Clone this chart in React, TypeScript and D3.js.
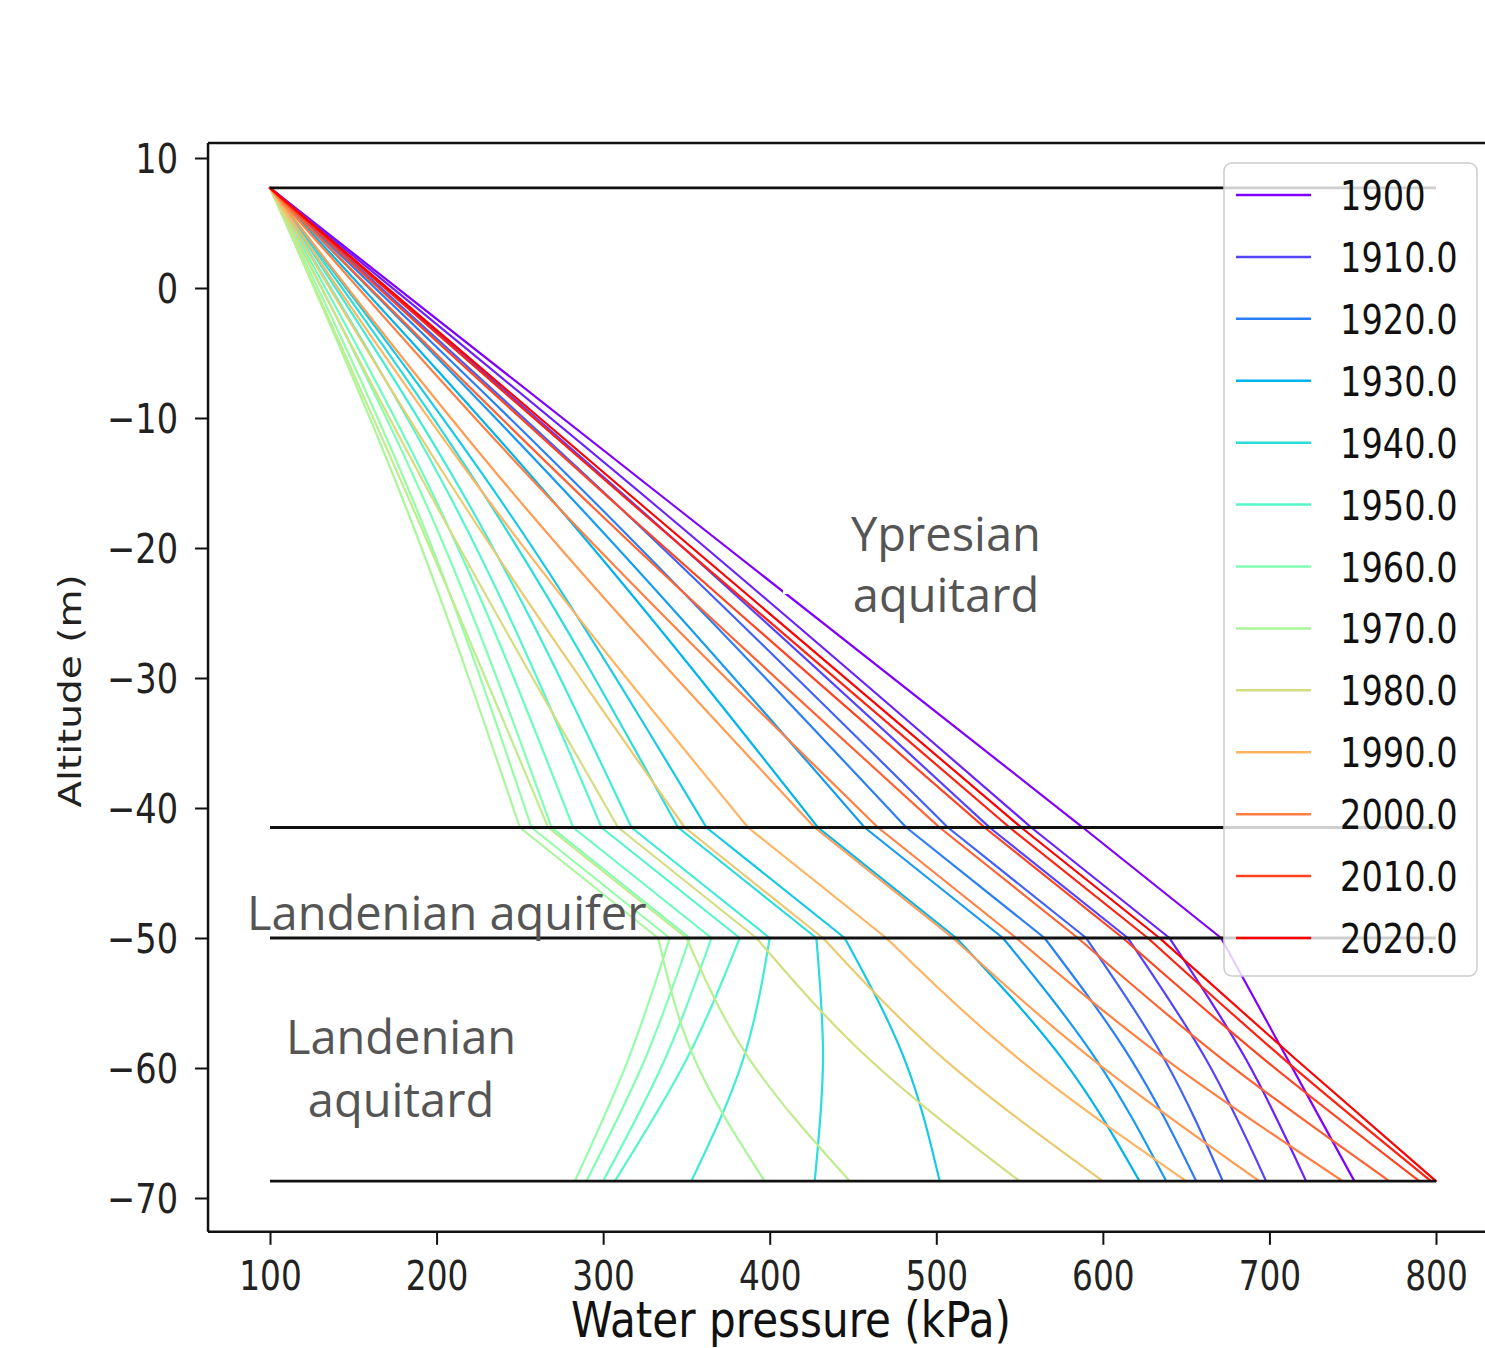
import React, { useEffect, useRef } from 'react'
import * as d3 from 'd3'

// one pressure profile every five years
const years = [1900, 1905, 1910, 1915, 1920, 1925, 1930, 1935, 1940, 1945, 1950, 1955, 1960,
    1965, 1970, 1975, 1980, 1985, 1990, 1995, 2000, 2005, 2010, 2015, 2020]

// altitudes (m) where the profiles were read
const altTop = 7.7
const altYpresMid = -17
const altYpresBase = -41.5
const altAquiferBase = -50
const altLandMid = -59.35
const altBottom = -68.7

// water pressure (kPa) at those altitudes, one value per year
const pTop = 100
const pYpresMid = [345, 334, 322, 311, 299, 287, 274, 242, 234, 221, 212, 202, 195,
    188, 182, 186, 201, 218, 235, 254, 274, 295, 311, 321, 326]
const pYpresBase = [588, 557, 532, 507, 482, 457, 429, 362, 345, 317, 299, 282, 269,
    257, 250, 267, 309, 349, 387, 427, 465, 502, 529, 544, 551]
const pAquiferBase = [671, 640, 615, 590, 565, 540, 512, 445, 428, 400, 382, 365, 352,
    340, 333, 350, 392, 432, 470, 510, 548, 585, 612, 627, 634]
const pLandMid = [711, 686, 662, 637, 617, 596, 576, 481, 432, 384, 350, 337, 325,
    315, 355, 388, 460, 505, 550, 594, 638, 672, 697, 709, 716]
const pBottom = [751, 722, 698, 672, 656, 638, 622, 502, 427, 353, 307, 300, 290,
    283, 397, 448, 550, 600, 650, 694, 744, 772, 790, 797, 800]

// layer boundaries
const layerAltitudes = [7.7, -41.5, -50, -68.7]

const legendYears = [1900, 1910, 1920, 1930, 1940, 1950, 1960, 1970, 1980, 1990, 2000, 2010, 2020]
const legendLabels = ['1900', '1910.0', '1920.0', '1930.0', '1940.0', '1950.0', '1960.0',
    '1970.0', '1980.0', '1990.0', '2000.0', '2010.0', '2020.0']

const xTicks = [100, 200, 300, 400, 500, 600, 700, 800]
const yTicks = [10, 0, -10, -20, -30, -40, -50, -60, -70]

// matplotlib 'rainbow' colormap
const rainbow = (t: number) => d3.rgb(
    255 * Math.min(1, Math.abs(2 * t - 0.5)),
    255 * Math.max(0, Math.sin(Math.PI * t)),
    255 * Math.max(0, Math.cos(Math.PI * t / 2))
).toString()
const yearColor = (yr: number) => rainbow((yr - 1900) / 120)

const App = () => {
    const ref = useRef<SVGSVGElement>(null)

    useEffect(() => {
        document.body.style.margin = '0'
        const W = 1485
        const svg = d3.select(ref.current)
        svg.selectAll('*').remove()

        const x = d3.scaleLinear().domain([100, 800]).range([270, 1436])
        const y = d3.scaleLinear().domain([10, -70]).range([158, 1198])
        const frameLeft = x(62.8)
        const frameTop = y(11.15)
        const frameBottom = y(-72.6)

        const dejavu = 'DejaVu Sans, sans-serif'

        // profiles
        const lineGen = d3.line<[number, number]>()
            .x(d => x(d[0]))
            .y(d => y(d[1]))
            .curve(d3.curveNatural)

        const lines = svg.append('g')
        years.forEach((yr, i) => {
            const segs: [number, number][][] = [
                [[pTop, altTop], [pYpresMid[i], altYpresMid], [pYpresBase[i], altYpresBase]],
                [[pYpresBase[i], altYpresBase], [pAquiferBase[i], altAquiferBase]],
                [[pAquiferBase[i], altAquiferBase], [pLandMid[i], altLandMid], [pBottom[i], altBottom]]
            ]
            lines.append('path')
                .attr('d', segs.map(s => lineGen(s)).join(''))
                .attr('fill', 'none')
                .attr('stroke', yearColor(yr))
                .attr('stroke-width', 2.2)
                .attr('stroke-linejoin', 'round')
                .attr('stroke-linecap', 'round')
        })

        // layer boundaries
        svg.selectAll('.layer')
            .data(layerAltitudes)
            .enter()
            .append('line')
            .attr('x1', x(100))
            .attr('x2', x(800))
            .attr('y1', d => y(d))
            .attr('y2', d => y(d))
            .attr('stroke', '#111')
            .attr('stroke-width', 2.8)

        // frame
        const frame = svg.append('g').attr('stroke', '#111').attr('stroke-width', 2.5)
        frame.append('line').attr('x1', frameLeft).attr('x2', frameLeft).attr('y1', frameTop).attr('y2', frameBottom)
        frame.append('line').attr('x1', frameLeft).attr('x2', W + 10).attr('y1', frameTop).attr('y2', frameTop)
        frame.append('line').attr('x1', frameLeft).attr('x2', W + 10).attr('y1', frameBottom).attr('y2', frameBottom)

        // axes
        const yAxis = d3.axisLeft(y).tickValues(yTicks).tickSize(13)
            .tickFormat(d => (+d < 0 ? '\u2212' + Math.abs(+d) : String(d)))
        const gy = svg.append('g').attr('transform', `translate(${frameLeft},0)`).call(yAxis)
        gy.select('.domain').remove()
        gy.attr('font-family', dejavu).attr('font-size', 41)
        gy.selectAll('line').attr('stroke', '#111').attr('stroke-width', 2)
        gy.selectAll('text')
            .attr('x', 0)
            .attr('dy', '0.36em')
            .attr('fill', '#222')
            .attr('transform', 'translate(-30,0) scale(0.82,1)')

        const xAxis = d3.axisBottom(x).tickValues(xTicks).tickSize(13)
        const gx = svg.append('g').attr('transform', `translate(0,${frameBottom})`).call(xAxis)
        gx.select('.domain').remove()
        gx.attr('font-family', dejavu).attr('font-size', 40)
        gx.selectAll('line').attr('stroke', '#111').attr('stroke-width', 2)
        gx.selectAll('text')
            .attr('y', 0)
            .attr('dy', null)
            .attr('fill', '#222')
            .attr('transform', 'translate(0,58) scale(0.82,1)')

        // axis labels
        svg.append('text')
            .attr('transform', 'translate(81,691) rotate(-90) scale(1,0.82)')
            .attr('text-anchor', 'middle')
            .attr('font-family', dejavu)
            .attr('font-size', 39)
            .attr('fill', '#222')
            .text('Altitude (m)')

        svg.append('text')
            .attr('transform', 'translate(791,1337) scale(0.86,1)')
            .attr('text-anchor', 'middle')
            .attr('font-family', dejavu)
            .attr('font-size', 49)
            .attr('fill', '#111')
            .text('Water pressure (kPa)')

        // layer annotations
        svg.append('rect').attr('x', 783).attr('y', 500).attr('width', 300).attr('height', 94).attr('fill', '#fff')
        const note = svg.append('g')
            .attr('font-family', 'Open Sans, sans-serif')
            .attr('font-size', 47)
            .attr('fill', '#555')
        note.append('text').attr('x', 946).attr('y', 551).attr('text-anchor', 'middle').text('Ypresian')
        note.append('text').attr('x', 946).attr('y', 612).attr('text-anchor', 'middle').text('aquitard')
        note.append('text').attr('x', 247).attr('y', 930).text('Landenian aquifer')
        note.append('text').attr('x', 401).attr('y', 1054).attr('text-anchor', 'middle').text('Landenian')
        note.append('text').attr('x', 401).attr('y', 1117).attr('text-anchor', 'middle').text('aquitard')

        // legend
        const legend = svg.append('g')
        legend.append('rect')
            .attr('x', 1224).attr('y', 163).attr('width', 253).attr('height', 813).attr('rx', 8)
            .attr('fill', '#fff').attr('fill-opacity', 0.8)
            .attr('stroke', '#ccc').attr('stroke-width', 1.5)
        const step = (938 - 195) / 12
        legendYears.forEach((yr, i) => {
            const yc = 195 + i * step
            legend.append('line')
                .attr('x1', 1236).attr('x2', 1311).attr('y1', yc).attr('y2', yc)
                .attr('stroke', yearColor(yr)).attr('stroke-width', 2.5)
            legend.append('text')
                .attr('transform', `translate(1340,${yc + 15}) scale(0.82,1)`)
                .attr('font-family', dejavu)
                .attr('font-size', 41)
                .attr('fill', '#111')
                .text(legendLabels[i])
        })
    }, [])

    return <svg ref={ref} width={1485} height={1348} style={{ display: 'block', background: '#fff' }} />
}

export default App
